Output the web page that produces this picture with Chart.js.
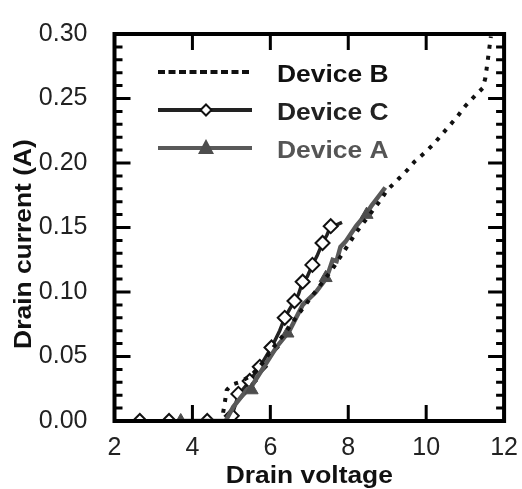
<!DOCTYPE html>
<html>
<head>
<meta charset="utf-8">
<script src="https://cdn.jsdelivr.net/npm/chart.js@4.4.1/dist/chart.umd.min.js"></script>
<style>
  html, body { margin: 0; padding: 0; background: #fff; }
</style>
</head>
<body>
<canvas id="grafico" width="522" height="489"></canvas>
<script>
// Device B (pontilhado)
const devBX = [4.40, 4.75, 4.82, 4.88, 5.00, 5.20, 5.50, 5.80, 6.10, 6.40, 6.70, 7.00, 7.30, 7.60, 7.90, 8.20, 8.50, 8.80, 9.00, 9.30, 9.50, 9.70, 10.00, 10.20, 10.40, 10.60, 10.80, 11.00, 11.25, 11.45, 11.52, 11.56, 11.60, 11.63, 11.66];
const devBY = [0, 0, 0.012, 0.024, 0.028, 0.030, 0.035, 0.045, 0.058, 0.069, 0.082, 0.094, 0.106, 0.118, 0.132, 0.146, 0.158, 0.170, 0.179, 0.188, 0.194, 0.201, 0.209, 0.215, 0.222, 0.229, 0.236, 0.244, 0.252, 0.258, 0.266, 0.275, 0.284, 0.291, 0.298];

// Device A (linha cinza + triangulos)
const devAX = [3.70, 4.85, 5.05, 5.39, 5.52, 5.73, 6.15, 6.44, 6.49, 6.83, 7.17, 7.42, 7.50, 7.60, 7.70, 7.80, 7.93, 8.20, 8.47, 8.60, 8.80, 8.95];
const devAY = [0, 0, 0.011, 0.024, 0.027, 0.037, 0.057, 0.068, 0.070, 0.090, 0.100, 0.110, 0.116, 0.125, 0.124, 0.135, 0.139, 0.151, 0.161, 0.167, 0.175, 0.181];
const devAMarcaX = [3.70, 5.52, 6.44, 7.42, 8.47];
const devAMarcaY = [0, 0.024, 0.068, 0.111, 0.160];

// Device C (linha preta + losangos)
const devCX = [2.65, 3.40, 4.38, 4.90, 5.01, 5.18, 5.47, 5.73, 6.03, 6.24, 6.37, 6.50, 6.62, 6.72, 6.83, 6.95, 7.08, 7.20, 7.34, 7.45, 7.55, 7.70, 7.84];
const devCY = [0, 0, 0, 0, 0.004, 0.020, 0.031, 0.042, 0.057, 0.070, 0.080, 0.087, 0.093, 0.098, 0.108, 0.112, 0.121, 0.128, 0.138, 0.144, 0.151, 0.152, 0.154];
const devCMarcaX = [2.65, 3.40, 4.38, 5.01, 5.18, 5.47, 5.73, 6.03, 6.37, 6.62, 6.83, 7.08, 7.34, 7.55];
const devCMarcaY = [0, 0, 0, 0.004, 0.021, 0.031, 0.042, 0.057, 0.080, 0.093, 0.108, 0.121, 0.138, 0.151];

const xTicks = [2, 4, 6, 8, 10, 12];
const yTicks = [0, 0.05, 0.10, 0.15, 0.20, 0.25, 0.30];
const nomes = ['Device B', 'Device C', 'Device A'];
const tituloX = 'Drain voltage';
const tituloY = 'Drain current (A)';

const pontos = (xs, ys) => xs.map((x, i) => ({ x: x, y: ys[i] }));

const FONTE = "'Liberation Sans', Arial, sans-serif";
const ESTICA = 1.1;

function textoEsticado(ctx, txt, x, y, ang) {
  ctx.save();
  ctx.translate(x, y);
  if (ang) ctx.rotate(ang);
  ctx.scale(ESTICA, 1);
  ctx.fillText(txt, 0, 0);
  ctx.restore();
}

const moldura = {
  id: 'moldura',
  afterDraw(chart) {
    const ctx = chart.ctx;
    const a = chart.chartArea;
    const sx = chart.scales.x, sy = chart.scales.y;
    ctx.save();
    ctx.strokeStyle = '#000';
    ctx.lineWidth = 3;
    // ticks do eixo x (para dentro)
    xTicks.forEach(v => {
      const px = sx.getPixelForValue(v);
      ctx.beginPath();
      ctx.moveTo(px, a.bottom); ctx.lineTo(px, a.bottom - 16);
      ctx.moveTo(px, a.top); ctx.lineTo(px, a.top + 16);
      ctx.stroke();
    });
    // ticks do eixo y, maiores e menores
    for (let i = 0; i <= 30; i++) {
      const py = sy.getPixelForValue(i * 0.01);
      const len = i % 5 === 0 ? 16 : 8;
      ctx.beginPath();
      ctx.moveTo(a.left, py); ctx.lineTo(a.left + len, py);
      ctx.moveTo(a.right, py); ctx.lineTo(a.right - len, py);
      ctx.stroke();
    }
    ctx.lineWidth = 4;
    ctx.strokeRect(a.left, a.top, a.right - a.left, a.bottom - a.top);

    // titulos
    ctx.fillStyle = '#111';
    ctx.font = 'bold 24px ' + FONTE;
    ctx.textAlign = 'center';
    ctx.textBaseline = 'alphabetic';
    textoEsticado(ctx, tituloX, (a.left + a.right) / 2, 483);
    textoEsticado(ctx, tituloY, 31, 244, -Math.PI / 2);

    // legenda
    const x0 = 158, x1 = 252, xm = 206;
    const linhas = [72, 110, 148];
    ctx.lineCap = 'butt';
    ctx.lineWidth = 4;
    ctx.strokeStyle = '#111';
    ctx.setLineDash([7, 3.5]);
    ctx.beginPath(); ctx.moveTo(x0, linhas[0]); ctx.lineTo(x1, linhas[0]); ctx.stroke();
    ctx.setLineDash([]);
    ctx.strokeStyle = '#222';
    ctx.beginPath(); ctx.moveTo(x0, linhas[1]); ctx.lineTo(x1, linhas[1]); ctx.stroke();
    ctx.strokeStyle = '#595959';
    ctx.beginPath(); ctx.moveTo(x0, linhas[2]); ctx.lineTo(x1, linhas[2]); ctx.stroke();
    ctx.fillStyle = '#fff'; ctx.strokeStyle = '#111'; ctx.lineWidth = 2;
    ctx.beginPath();
    ctx.moveTo(xm, linhas[1] - 5.5); ctx.lineTo(xm + 5.5, linhas[1]);
    ctx.lineTo(xm, linhas[1] + 5.5); ctx.lineTo(xm - 5.5, linhas[1]); ctx.closePath();
    ctx.fill(); ctx.stroke();
    ctx.fillStyle = '#4d4d4d';
    ctx.beginPath();
    ctx.moveTo(xm, linhas[2] - 9); ctx.lineTo(xm + 8, linhas[2] + 6); ctx.lineTo(xm - 8, linhas[2] + 6);
    ctx.closePath(); ctx.fill();

    ctx.textAlign = 'left';
    const cores = ['#111', '#222', '#555'];
    nomes.forEach((n, i) => {
      ctx.fillStyle = cores[i];
      textoEsticado(ctx, n, 277, linhas[i] + 10);
    });
    ctx.restore();
  }
};

new Chart(document.getElementById('grafico').getContext('2d'), {
  type: 'scatter',
  data: {
    datasets: [
      { label: nomes[0], data: pontos(devBX, devBY), showLine: true, borderColor: '#111', borderWidth: 4,
        borderDash: [4, 7], pointRadius: 0, fill: false },
      { label: nomes[2] + ' marcas', data: pontos(devAMarcaX, devAMarcaY), showLine: false, pointStyle: 'triangle',
        pointRadius: 7.5, backgroundColor: '#4d4d4d', borderColor: '#4d4d4d', borderWidth: 1 },
      { label: nomes[2], data: pontos(devAX, devAY), showLine: true, borderColor: '#595959', borderWidth: 4.5,
        pointRadius: 0, fill: false },
      { label: nomes[1] + ' marcas', data: pontos(devCMarcaX, devCMarcaY), showLine: false, pointStyle: 'rectRot',
        pointRadius: 7, backgroundColor: '#fff', borderColor: '#111', borderWidth: 2 },
      { label: nomes[1], data: pontos(devCX, devCY), showLine: true, borderColor: '#222', borderWidth: 3.5,
        pointRadius: 0, fill: false }
    ]
  },
  options: {
    responsive: false,
    animation: false,
    layout: { padding: { top: 28, right: 15.5, left: 0, bottom: 0 } },
    plugins: { legend: { display: false }, tooltip: { enabled: false } },
    scales: {
      x: {
        type: 'linear', min: 2, max: 12,
        grid: { display: false }, border: { display: false },
        ticks: { stepSize: 2, color: '#222', font: { family: FONTE, size: 25 }, padding: 4, maxRotation: 0 },
        afterFit: s => { s.height = 68; }
      },
      y: {
        min: 0, max: 0.3,
        grid: { display: false }, border: { display: false },
        ticks: { stepSize: 0.05, color: '#222', font: { family: FONTE, size: 25 }, padding: 19,
          callback: v => v.toFixed(2) },
        afterFit: s => { s.width = 114.5; }
      }
    }
  },
  plugins: [moldura]
});
</script>
</body>
</html>
